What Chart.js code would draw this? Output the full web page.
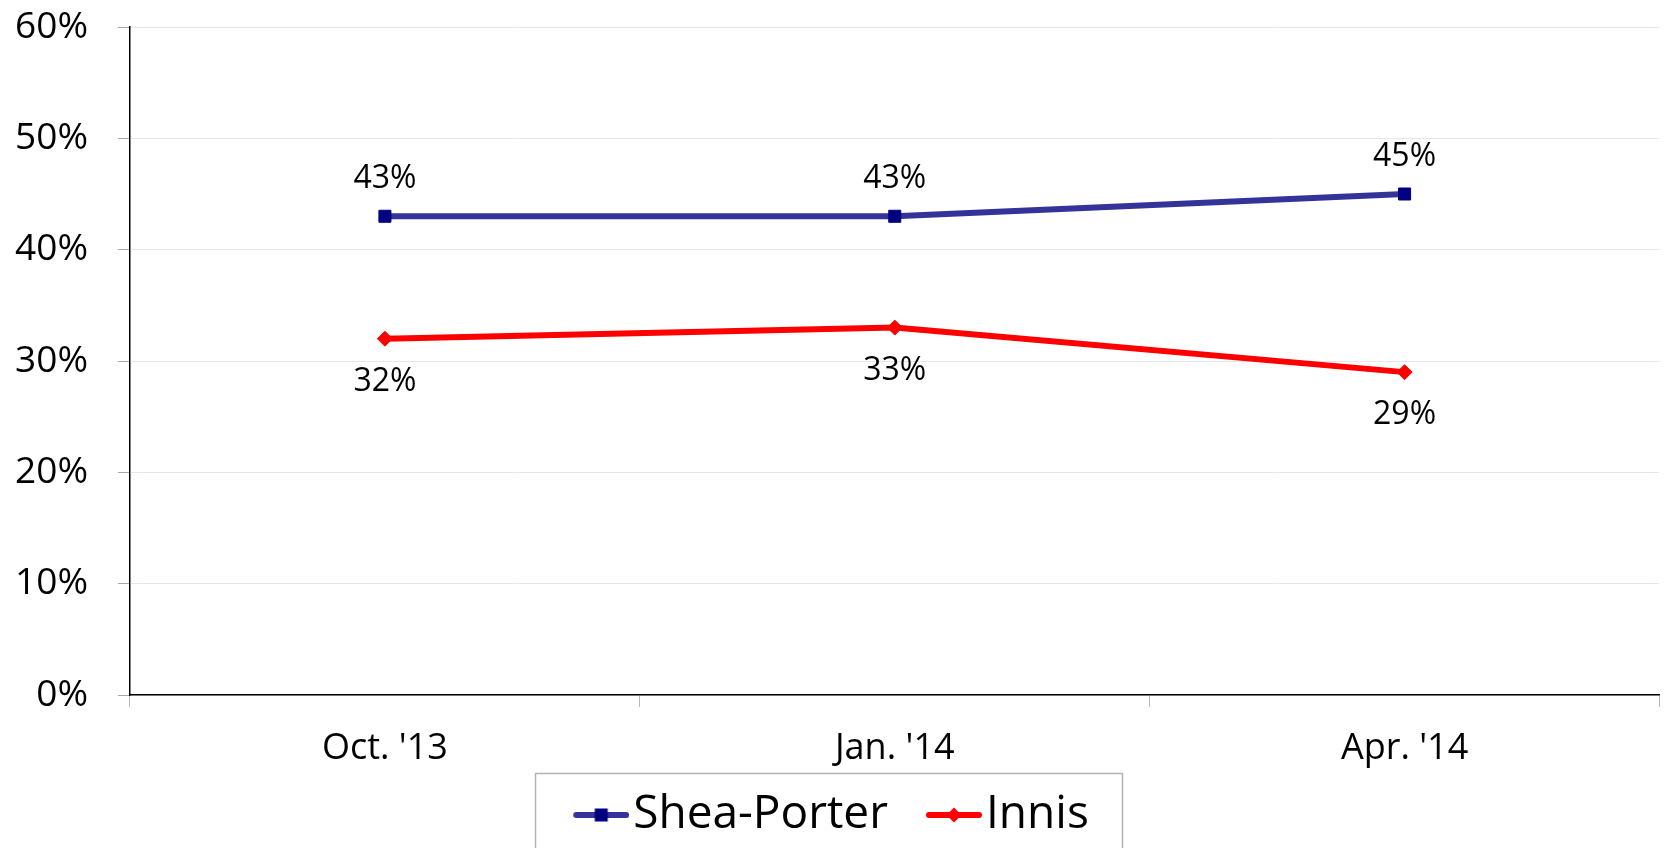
<!DOCTYPE html>
<html>
<head>
<meta charset="utf-8">
<script src="https://cdn.jsdelivr.net/npm/chart.js@4"></script>
<style>
  html, body { margin: 0; padding: 0; background: #fff; }
  #wrap { width: 1669px; height: 848px; position: relative; }
</style>
</head>
<body>
<div id="wrap"><canvas id="chart" width="1669" height="848"></canvas></div>
<script>
const categories = ["Oct. '13", "Jan. '14", "Apr. '14"];
const sheaPorter = [43, 43, 45];
const innis = [32, 33, 29];
const yTicks = [0, 10, 20, 30, 40, 50, 60];

const FONT = "'Open Sans', 'DejaVu Sans', sans-serif";

// line + marker swatch for the legend; drawn in the right part of a wider
// canvas so that it ends just before the label text
function swatch(color, markerColor, shape) {
  const c = document.createElement('canvas');
  c.width = 94; c.height = 20;
  const g = c.getContext('2d');
  g.strokeStyle = color;
  g.lineWidth = 6;
  g.lineCap = 'round';
  g.beginPath(); g.moveTo(41, 10); g.lineTo(91, 10); g.stroke();
  g.fillStyle = markerColor;
  const cx = 66;
  if (shape === 'square') {
    g.fillRect(cx - 6.5, 10 - 6.5, 13, 13);
  } else {
    g.beginPath();
    g.moveTo(cx - 7.5, 10); g.lineTo(cx, 2.5); g.lineTo(cx + 7.5, 10); g.lineTo(cx, 17.5);
    g.closePath(); g.fill();
  }
  return c;
}

const labelPlugin = {
  id: 'pointLabels',
  afterDatasetsDraw(chart) {
    const { ctx } = chart;
    ctx.save();
    ctx.font = '32px ' + FONT;
    ctx.fillStyle = '#000';
    ctx.textAlign = 'center';
    ctx.textBaseline = 'middle';
    chart.data.datasets.forEach((ds, i) => {
      const meta = chart.getDatasetMeta(i);
      meta.data.forEach((pt, j) => {
        const off = ds.labelAbove ? -37 : 43;
        ctx.fillText(ds.data[j] + '%', pt.x, pt.y + off);
      });
    });
    ctx.restore();
  }
};

// nudge the legend a bit left of centre and frame it
const legendFrame = {
  id: 'legendFrame',
  afterLayout(chart) {
    chart.legend.left -= 13;
    chart.legend.right -= 13;
  },
  afterDraw(chart) {
    const lg = chart.legend;
    const { ctx } = chart;
    const mid = (lg.left + lg.right) / 2 + 7;
    ctx.save();
    ctx.strokeStyle = '#b4b4b4';
    ctx.lineWidth = 1.5;
    ctx.strokeRect(Math.round(mid - 293.5) + 0.5, Math.round(lg.top) + 0.5, 587, 200);
    ctx.restore();
  }
};

new Chart(document.getElementById('chart'), {
  type: 'line',
  data: {
    labels: categories,
    datasets: [
      {
        label: 'Shea-Porter',
        data: sheaPorter,
        borderColor: '#333399',
        borderWidth: 6,
        backgroundColor: '#000080',
        pointBackgroundColor: '#000080',
        pointBorderColor: '#000080',
        pointBorderWidth: 1,
        pointStyle: 'rect',
        pointRadius: 8.5,
        tension: 0,
        labelAbove: true,
        legendSwatch: swatch('#333399', '#000080', 'square'),
      },
      {
        label: 'Innis',
        data: innis,
        borderColor: '#ff0000',
        borderWidth: 6,
        backgroundColor: '#ff0000',
        pointBackgroundColor: '#ff0000',
        pointBorderColor: '#ff0000',
        pointBorderWidth: 1,
        pointStyle: 'rectRot',
        pointRadius: 7.5,
        tension: 0,
        labelAbove: false,
        legendSwatch: swatch('#ff0000', '#ff0000', 'diamond'),
      },
    ],
  },
  options: {
    responsive: false,
    animation: false,
    events: [],
    layout: { padding: { top: 27, right: 0, left: 0, bottom: 0 } },
    plugins: {
      tooltip: { enabled: false },
      legend: {
        position: 'bottom',
        maxHeight: 78,
        labels: {
          usePointStyle: true,
          pointStyleWidth: 56,
          padding: 19,
          color: '#000',
          font: { family: FONT, size: 46 },
          generateLabels(chart) {
            return chart.data.datasets.map((ds, i) => ({
              text: ds.label,
              pointStyle: ds.legendSwatch,
              fillStyle: ds.borderColor,
              strokeStyle: ds.borderColor,
              lineWidth: 0,
              hidden: false,
              datasetIndex: i,
            }));
          },
        },
      },
    },
    scales: {
      x: {
        offset: true,
        grid: {
          offset: true,
          drawOnChartArea: false,
          tickLength: 12,
          tickColor: '#b8b8b8',
        },
        border: { color: '#000', width: 1.5 },
        ticks: {
          color: '#000',
          padding: 20,
          maxRotation: 0,
          font: { family: FONT, size: 36 },
        },
        afterFit(s) { s.height = 78; },
      },
      y: {
        min: 0,
        max: 60,
        afterBuildTicks(s) { s.ticks = yTicks.map((v) => ({ value: v })); },
        grid: {
          color: '#e3e8f0',
          tickColor: '#a8a8a8',
          tickLength: 12,
        },
        border: { color: '#000', width: 1.5 },
        ticks: {
          color: '#000',
          padding: 30,
          font: { family: FONT, size: 37 },
          callback: (v) => v + '%',
        },
        afterFit(s) {
          s.width = 130;
          s.paddingTop = 0;
          s.paddingBottom = 0;
        },
      },
    },
  },
  plugins: [labelPlugin, legendFrame],
});
</script>
</body>
</html>
